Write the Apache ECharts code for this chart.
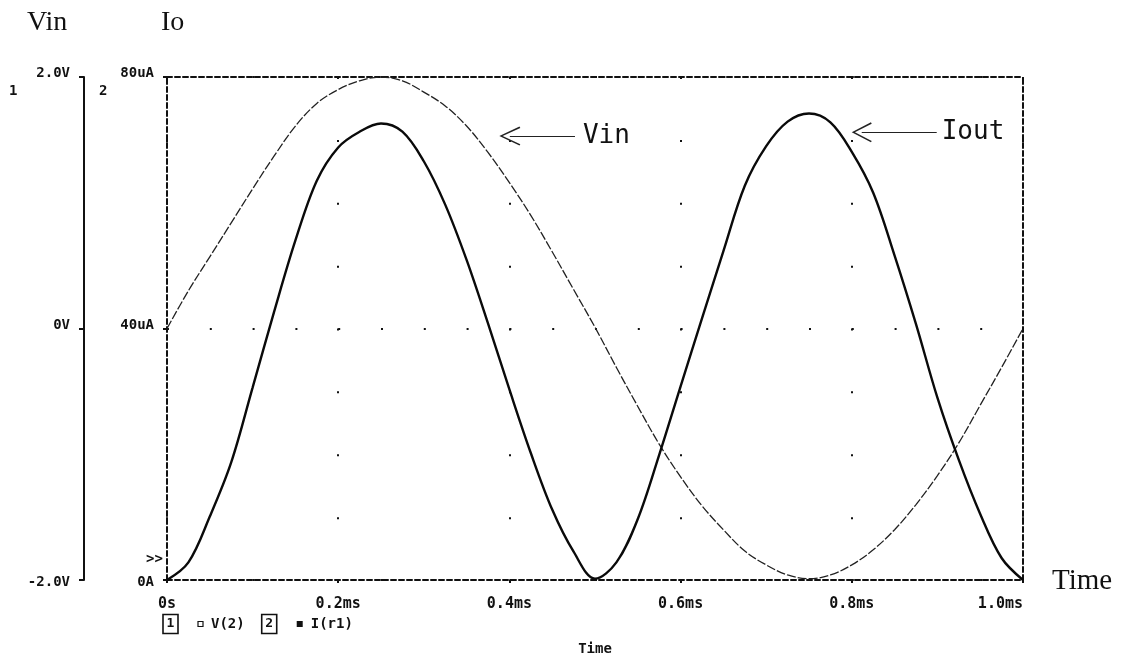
<!DOCTYPE html>
<html>
<head>
<meta charset="utf-8">
<script src="https://cdn.jsdelivr.net/npm/echarts@6/dist/echarts.min.js"></script>
<style>
  html, body { margin: 0; padding: 0; background: #fff; }
  #chart { width: 1126px; height: 657px; }
</style>
</head>
<body>
<div id="chart"></div>
<script>
// Transient sweep: input voltage V(2) and output current I(r1) over one period
const timeMs = [
  0, 0.025, 0.05, 0.075, 0.1, 0.125, 0.15, 0.175, 0.2, 0.225,
  0.25, 0.275, 0.3, 0.325, 0.35, 0.375, 0.4, 0.425, 0.45, 0.475,
  0.5, 0.525, 0.55, 0.575, 0.6, 0.625, 0.65, 0.675, 0.7, 0.725,
  0.75, 0.775, 0.8, 0.825, 0.85, 0.875, 0.9, 0.925, 0.95, 0.975, 1.0
];
// V(2), volts
const vinVolts = [
  0.00, 0.30, 0.57, 0.84, 1.11, 1.37, 1.61, 1.79, 1.90, 1.97,
  2.00, 1.97, 1.88, 1.77, 1.61, 1.40, 1.16, 0.90, 0.61, 0.31,
  0.01, -0.31, -0.62, -0.92, -1.18, -1.41, -1.60, -1.77, -1.88, -1.96,
  -1.99, -1.96, -1.88, -1.76, -1.60, -1.40, -1.17, -0.91, -0.61, -0.31, 0.00
];
// I(r1), microamps
const ioutMicroA = [
  0, 2.8, 10.1, 18.7, 30.6, 42.6, 54.0, 63.5, 68.8, 71.3,
  72.6, 71.3, 66.6, 59.7, 50.9, 40.8, 30.3, 20.2, 11.2, 4.5,
  0.2, 2.8, 9.7, 19.9, 30.8, 41.6, 52.3, 62.7, 69.0, 72.9,
  74.2, 72.8, 68.1, 61.6, 51.6, 40.7, 29.0, 19.1, 10.5, 3.5, 0
];
const vinTickLabels = { '-2': '-2.0V', '0': '0V', '2': '2.0V' };
const ioTickLabels = { '0': '0A', '40': '40uA', '80': '80uA' };
const timeTickLabels = { '0': '0s', '0.2': '0.2ms', '0.4': '0.4ms', '0.6': '0.6ms', '0.8': '0.8ms', '1': '1.0ms' };

// Annotation arrows: [start time, level, end time, text]
const vinArrow = [0.4005, 1.53, 0.4766, 'Vin'];
const ioutArrow = [0.8116, 71.2, 0.8992, 'Iout'];

const MONO = '"DejaVu Sans Mono", monospace';
const SERIF = '"Liberation Serif", "Times New Roman", serif';
const INK = '#111';
// open arrow head, tip at the top of the path
const chevron = 'path://M0,0 L9,19.6 L7.7,20.4 L0,3.2 L-7.7,20.4 L-9,19.6 Z';

function tickFmt(map, lowValue) {
  return function (v) {
    const s = map[String(+v.toFixed(3))] || '';
    return v === lowValue ? '{lo|' + s + '}' : '{hi|' + s + '}';
  };
}
const tickRich = {
  lo: { fontFamily: MONO, fontWeight: 'bold', fontSize: 14, color: INK, padding: [5, 0, 0, 0] },
  hi: { fontFamily: MONO, fontWeight: 'bold', fontSize: 14, color: INK, padding: [0, 0, 7, 0] }
};
const plain = (size, family, weight) => ({ fontFamily: family, fontSize: size, fontWeight: weight, color: INK });

const chart = echarts.init(document.getElementById('chart'), null, { renderer: 'canvas' });

chart.setOption({
  animation: false,
  backgroundColor: '#fff',
  title: [
    { text: 'Vin', left: 27, top: 9, padding: 0, textStyle: plain(28, SERIF, 'normal') },
    { text: 'Io', left: 161, top: 9, padding: 0, textStyle: plain(28, SERIF, 'normal') },
    { text: 'Time', left: 1052, top: 567, padding: 0, textStyle: plain(29, SERIF, 'normal') },
    { text: '1', left: 9, top: 84, padding: 0, textStyle: plain(14, MONO, 'bold') },
    { text: '2', left: 99, top: 84, padding: 0, textStyle: plain(14, MONO, 'bold') },
    { text: '>>', left: 146, top: 552, padding: 0, textStyle: plain(14, MONO, 'bold') },
    {
      text: '{b|1}{s1|}{h|}{s2|}{t|V(2)}{s3|}{b|2}{s4|}{f|}{s2|}{t|I(r1)}',
      left: 163, top: 615, padding: 0,
      textStyle: {
        rich: {
          b: { fontFamily: MONO, fontWeight: 'bold', fontSize: 13, color: INK, width: 9, align: 'center',
               lineHeight: 15, padding: [3, 3, 3, 3], borderColor: INK, borderWidth: 1.6 },
          t: { fontFamily: MONO, fontWeight: 'bold', fontSize: 14, color: INK },
          h: { width: 5, height: 5, borderColor: INK, borderWidth: 1.2 },
          f: { width: 6, height: 6, backgroundColor: INK },
          s1: { width: 20 }, s2: { width: 8 }, s3: { width: 17 }, s4: { width: 20 }
        }
      }
    }
  ],
  grid: { left: 167, right: 103, top: 77, bottom: 77, containLabel: false, outerBoundsMode: 'none' },
  xAxis: [
    {
      type: 'value', min: 0, max: 1.0, interval: 0.2,
      name: 'Time', nameLocation: 'middle', nameGap: 62,
      nameTextStyle: plain(14, MONO, 'bold'),
      axisLine: { show: true, onZero: false, lineStyle: { color: INK, width: 2, type: [5, 3] } },
      axisTick: { show: true, inside: false, length: 3, lineStyle: { color: INK, width: 2 } },
      axisLabel: {
        margin: 17, alignMaxLabel: 'right',
        fontFamily: MONO, fontWeight: 'bold', fontSize: 15, color: INK,
        formatter: v => timeTickLabels[String(+v.toFixed(3))] || ''
      },
      splitLine: { show: true, lineStyle: { color: INK, width: 2, type: [2, 60.875] } }
    },
    {
      type: 'value', position: 'top', min: 0, max: 1.0, interval: 0.2,
      axisLine: { show: true, onZero: false, lineStyle: { color: INK, width: 2, type: [5, 3] } },
      axisTick: { show: false }, axisLabel: { show: false }, splitLine: { show: false }
    }
  ],
  yAxis: [
    {
      // axis 1: input voltage
      type: 'value', position: 'left', offset: 83, min: -2, max: 2, interval: 2,
      axisLine: { show: true, onZero: false, lineStyle: { color: INK, width: 2 } },
      axisTick: { show: true, inside: false, length: 5, lineStyle: { color: INK, width: 2 } },
      axisLabel: { margin: 14, formatter: tickFmt(vinTickLabels, -2), rich: tickRich },
      splitLine: { show: false }
    },
    {
      // axis 2: output current
      type: 'value', position: 'left', min: 0, max: 80, interval: 40,
      axisLine: { show: true, onZero: false, lineStyle: { color: INK, width: 2, type: [5, 3] } },
      axisTick: { show: true, inside: false, length: 4, lineStyle: { color: INK, width: 2 } },
      axisLabel: { margin: 13, formatter: tickFmt(ioTickLabels, 0), rich: tickRich },
      splitLine: { show: true, lineStyle: { color: INK, width: 2, type: [2, 40.8] } }
    },
    {
      type: 'value', position: 'right', min: 0, max: 80, interval: 40,
      axisLine: { show: true, onZero: false, lineStyle: { color: INK, width: 2, type: [5, 3] } },
      axisTick: { show: false }, axisLabel: { show: false }, splitLine: { show: false }
    }
  ],
  series: [
    {
      name: 'V(2)', type: 'line', xAxisIndex: 0, yAxisIndex: 0,
      data: timeMs.map((t, i) => [t, vinVolts[i]]),
      smooth: 0.35, showSymbol: false,
      lineStyle: { color: '#222', width: 1.3, type: [9, 2] },
      markLine: {
        silent: true, animation: false,
        symbol: [chevron, 'none'], symbolSize: [19, 21],
        lineStyle: { color: '#222', width: 1.2, type: 'solid' },
        label: { show: true, position: 'end', distance: 8, formatter: vinArrow[3],
                 fontFamily: MONO, fontSize: 26, color: '#111' },
        data: [[{ coord: [vinArrow[0], vinArrow[1]] }, { coord: [vinArrow[2], vinArrow[1]] }]]
      }
    },
    {
      name: 'I(r1)', type: 'line', xAxisIndex: 0, yAxisIndex: 1,
      data: timeMs.map((t, i) => [t, ioutMicroA[i]]),
      smooth: 0.35, showSymbol: false,
      lineStyle: { color: '#0a0a0a', width: 2.4 },
      markLine: {
        silent: true, animation: false,
        symbol: [chevron, 'none'], symbolSize: [20, 20],
        lineStyle: { color: '#222', width: 1.2, type: 'solid' },
        label: { show: true, position: 'end', distance: 5, formatter: ioutArrow[3],
                 fontFamily: MONO, fontSize: 26, color: '#111' },
        data: [[{ coord: [ioutArrow[0], ioutArrow[1]] }, { coord: [ioutArrow[2], ioutArrow[1]] }]]
      }
    }
  ]
});
</script>
</body>
</html>
